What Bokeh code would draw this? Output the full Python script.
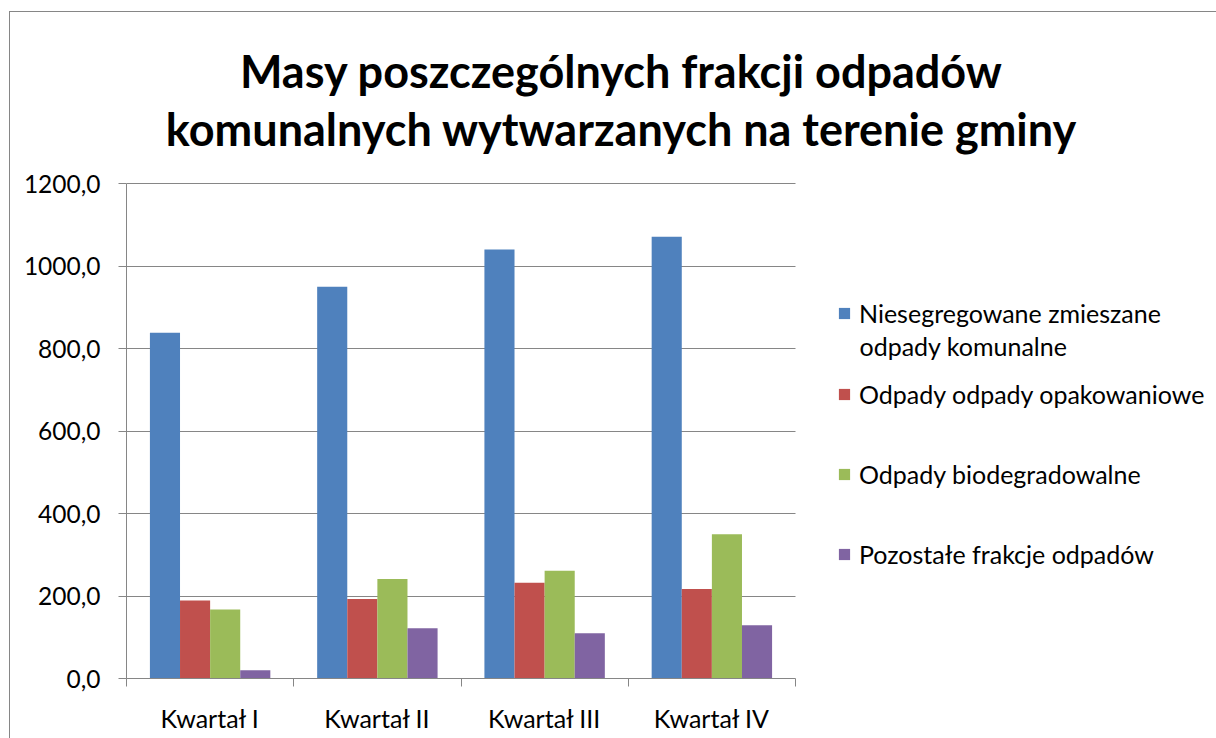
from bokeh.plotting import figure
from bokeh.models import (ColumnDataSource, Range1d, FixedTicker, CustomJSTickFormatter,
                          Legend, LegendItem, Label)
from bokeh.transform import dodge
from bokeh.embed import file_html
from bokeh.resources import INLINE

title_lines = ["Masy poszczególnych frakcji odpadów",
               "komunalnych wytwarzanych na terenie gminy"]
quarters = ["Kwartał I", "Kwartał II", "Kwartał III", "Kwartał IV"]
series_labels = ["Niesegregowane zmieszane", "Odpady odpady opakowaniowe",
                 "Odpady biodegradowalne", "Pozostałe frakcje odpadów"]
series_label_line2 = "odpady komunalne"
niesegregowane = [838, 950, 1040, 1071]
opakowaniowe = [189, 193, 232, 217]
biodegradowalne = [167, 241, 261, 350]
pozostale = [20, 122, 110, 129]
y_ticks = [0, 200, 400, 600, 800, 1000, 1200]
Y_MAX = 1200

colors = ["#4F81BD", "#C0504D", "#9BBB59", "#8064A2"]
FONT = "Lato"
GRAY = "#868686"

# geometry (page pixels)
CANVAS_X, CANVAS_Y = 10, 12
CANVAS_W, CANVAS_H = 1206, 726
PLOT_L, PLOT_R, PLOT_T, PLOT_B = 126, 795, 183, 678   # bar chart area
FRAME_W = CANVAS_X + CANVAS_W - PLOT_L
FRAME_H = PLOT_B - CANVAS_Y
n = len(quarters)
x_end = n * FRAME_W / (PLOT_R - PLOT_L)
y_end = Y_MAX * FRAME_H / (PLOT_B - PLOT_T)

src = ColumnDataSource(dict(
    pos=[i + 0.5 for i in range(n)],
    s0=niesegregowane, s1=opakowaniowe, s2=biodegradowalne, s3=pozostale,
))

p = figure(output_backend="svg", toolbar_location=None,
           width=CANVAS_W, height=CANVAS_H,
           frame_width=FRAME_W, frame_height=FRAME_H,
           min_border_left=PLOT_L - CANVAS_X, min_border_right=0,
           min_border_top=0, min_border_bottom=CANVAS_H - FRAME_H,
           x_range=Range1d(0, x_end), y_range=Range1d(0, y_end),
           tools="")
p.styles = {"border-left": f"1px solid {GRAY}", "border-top": f"1px solid {GRAY}",
            "margin-left": f"{CANVAS_X - 1}px", "margin-top": f"{CANVAS_Y - 1}px"}
p.outline_line_color = None
p.background_fill_color = "white"
p.border_fill_color = "white"

bw = 0.18
offsets = [-1.5 * bw, -0.5 * bw, 0.5 * bw, 1.5 * bw]
renderers = []
for k, (col, off) in enumerate(zip(["s0", "s1", "s2", "s3"], offsets)):
    r = p.vbar(x=dodge("pos", off), top=col, width=bw, bottom=0, source=src,
               fill_color=colors[k], line_color=None)
    renderers.append(r)

# axes
xa = p.xaxis[0]
xa.bounds = (0, n)
xa.ticker = FixedTicker(ticks=[i + 0.5 for i in range(n)],
                        minor_ticks=list(range(n + 1)))
xa.formatter = CustomJSTickFormatter(args=dict(labels=quarters),
                                     code="return labels[Math.floor(tick)];")
xa.major_tick_out = 0
xa.major_tick_in = 0
xa.minor_tick_out = 8
xa.minor_tick_in = 0
xa.minor_tick_line_color = GRAY
xa.axis_line_color = GRAY
xa.major_label_text_font = FONT
xa.major_label_text_font_size = "25px"
xa.major_label_text_color = "black"
xa.major_label_standoff = 16

ya = p.yaxis[0]
ya.bounds = (0, Y_MAX)
ya.ticker = FixedTicker(ticks=y_ticks, minor_ticks=[])
ya.formatter = CustomJSTickFormatter(code="return tick.toFixed(1).replace('.', ',');")
ya.major_tick_out = 8
ya.major_tick_in = 0
ya.major_tick_line_color = GRAY
ya.axis_line_color = GRAY
ya.major_label_text_font = FONT
ya.major_label_text_font_size = "24.5px"
ya.major_label_text_color = "black"
ya.major_label_standoff = 18

p.xgrid.grid_line_color = None
p.ygrid.grid_line_color = GRAY
p.ygrid.grid_line_width = 1
p.ygrid.ticker = FixedTicker(ticks=y_ticks)
p.ygrid.bounds = (0, Y_MAX)
p.ygrid.cross_bounds = (0, n)

# title (centered over whole chart), screen units relative to frame bottom-left
for txt, cy in zip(title_lines, [70, 128]):
    p.add_layout(Label(x=621 - PLOT_L, y=PLOT_B - cy, x_units="screen", y_units="screen",
                       text=txt, text_font=FONT, text_font_style="bold",
                       text_font_size="45px", text_align="center", text_baseline="middle",
                       text_color="black"))

# legend (one legend per entry)
centers = [312.5, 394, 474, 553.5]
H = 30
for k in range(4):
    lg = Legend(items=[LegendItem(label=series_labels[k], renderers=[renderers[k]])],
                location=(837 - PLOT_L, PLOT_B - (centers[k] + H / 2)),
                padding=0, margin=0, spacing=0, border_line_color=None,
                background_fill_alpha=0, glyph_width=14, glyph_height=14,
                label_height=H, label_standoff=8,
                label_text_font=FONT, label_text_font_size="25px", label_text_color="black")
    p.add_layout(lg)
p.add_layout(Label(x=859 - PLOT_L, y=PLOT_B - 345, x_units="screen", y_units="screen",
                   text=series_label_line2, text_font=FONT, text_font_size="25px",
                   text_align="left", text_baseline="middle", text_color="black"))

open("out.html", "w").write(file_html(p, INLINE))
